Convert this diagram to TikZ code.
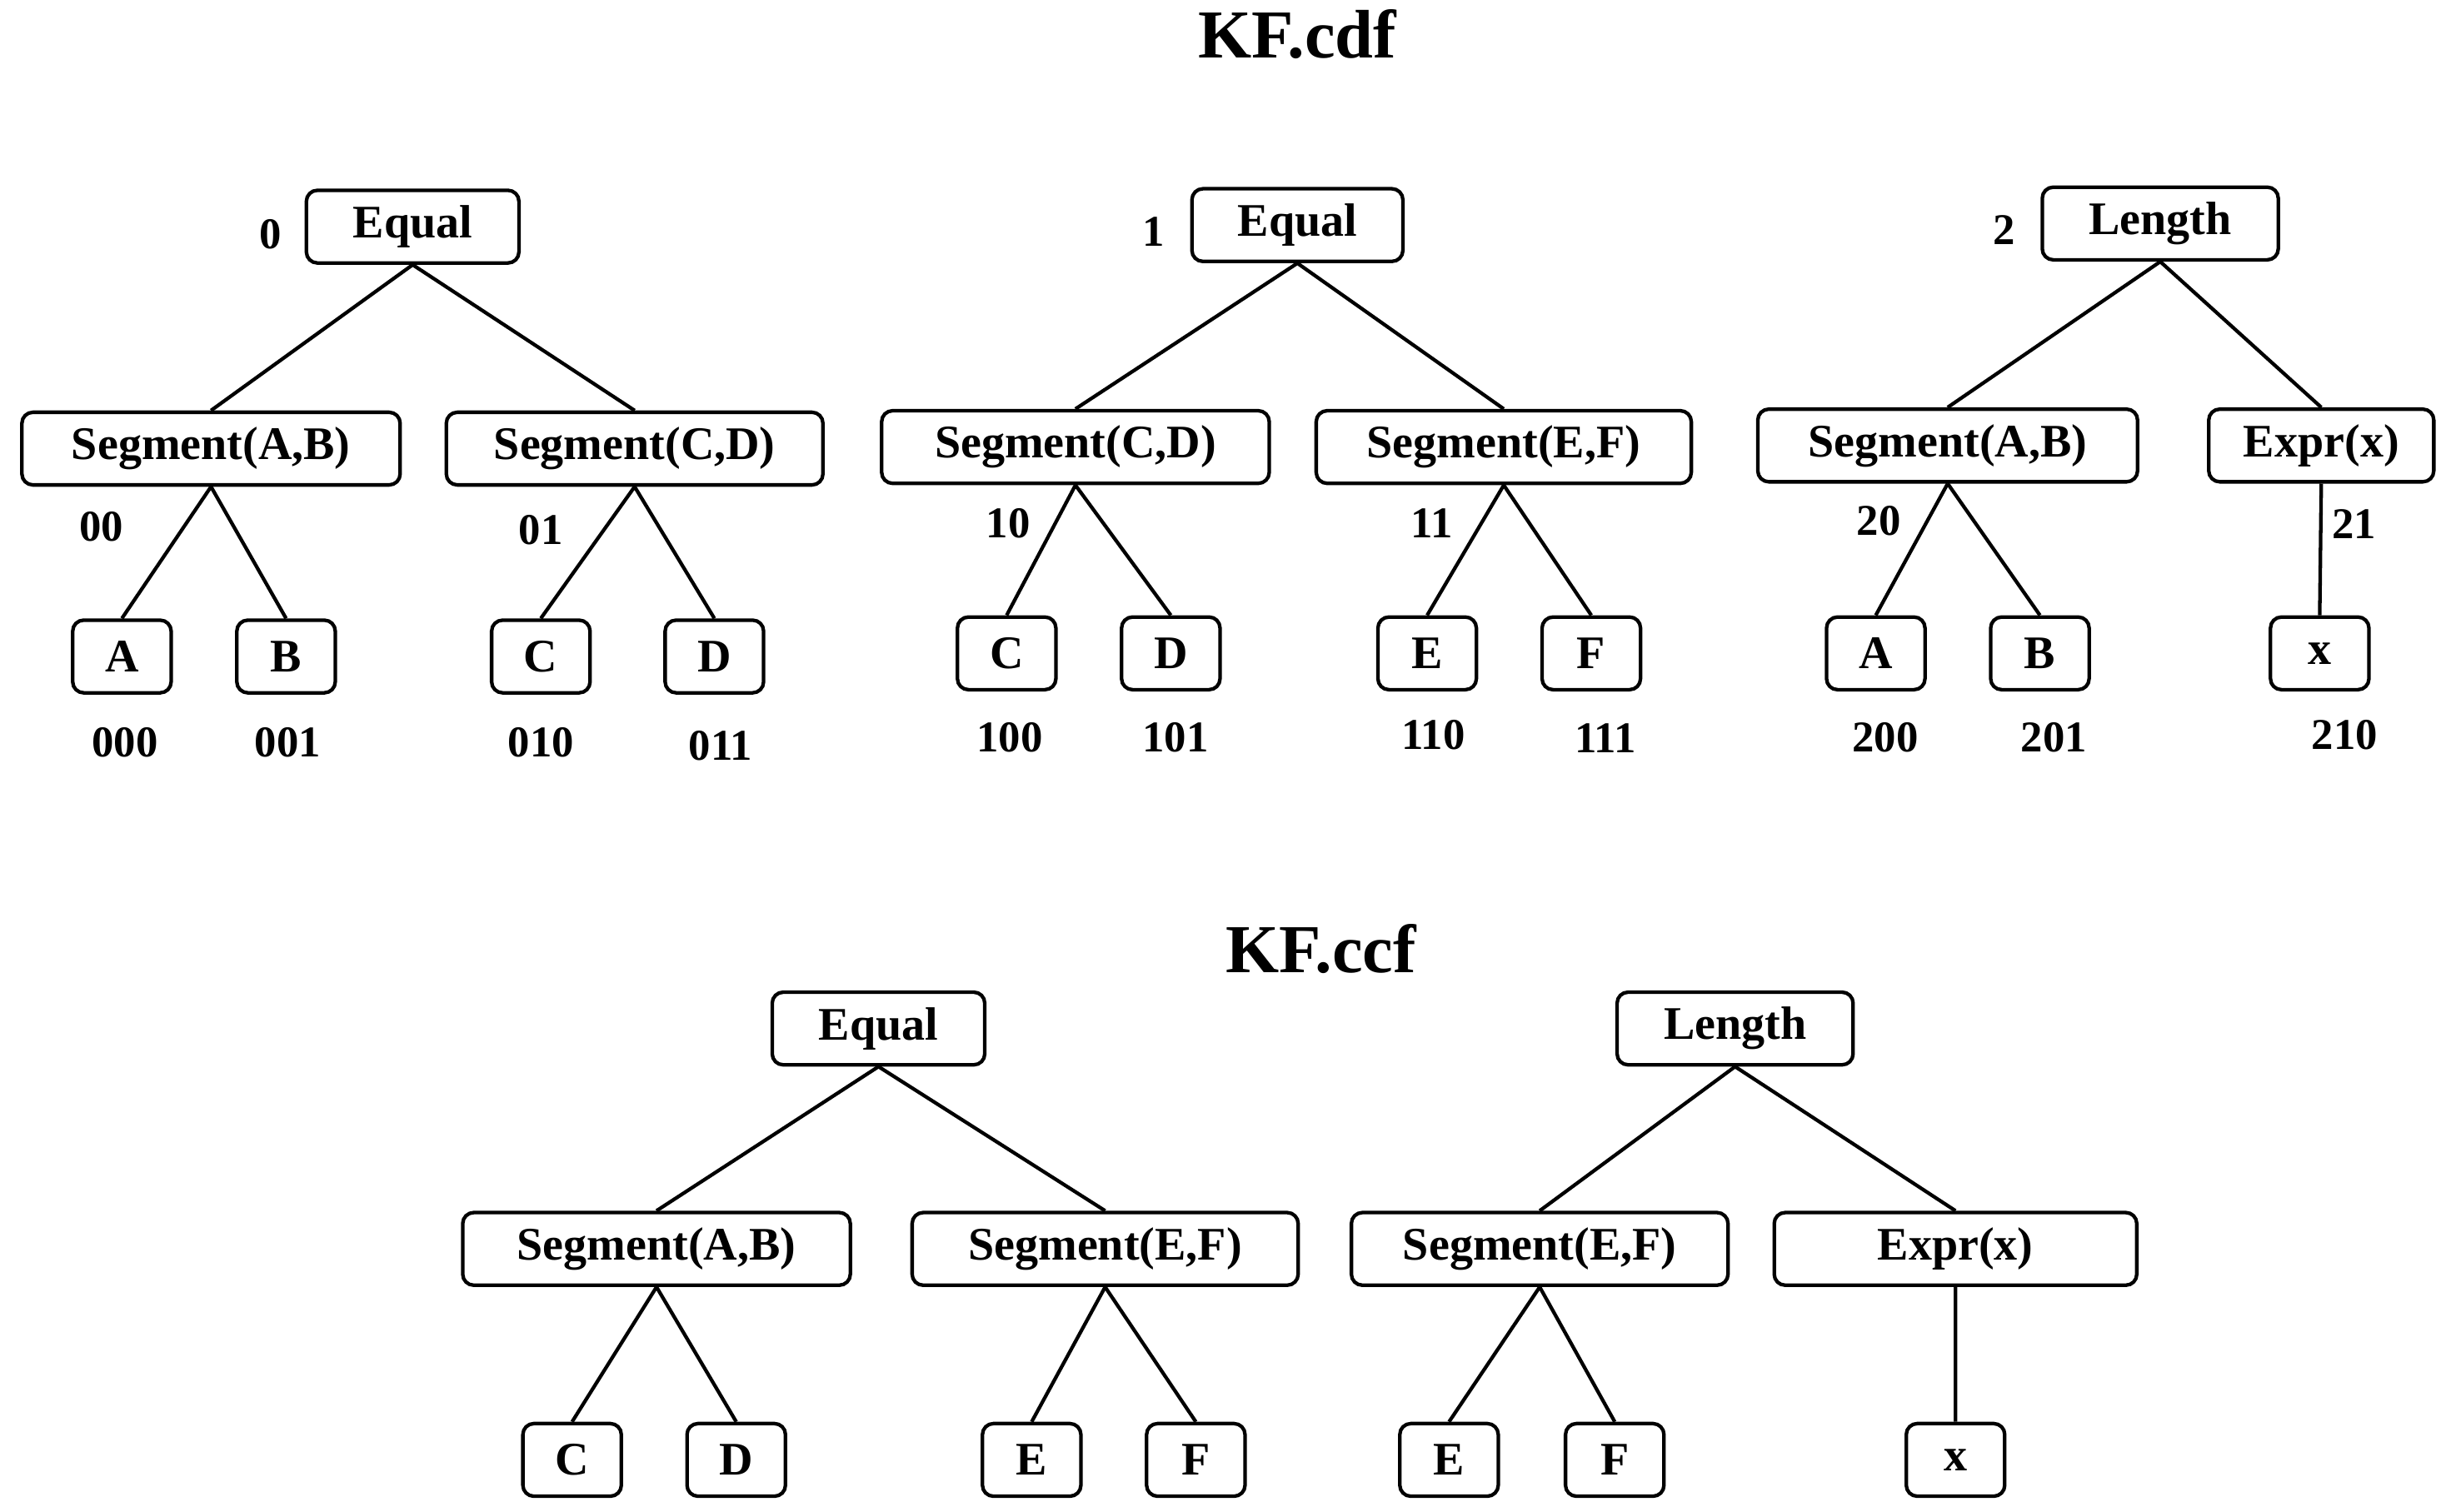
\documentclass[tikz,border=0pt]{standalone}
\usepackage{fontspec}
\setmainfont{Liberation Serif}
\begin{document}
\begin{tikzpicture}[x=0.02cm,y=-0.02cm,
 bx/.style={draw,line width=1.3pt,rounded corners=4pt,minimum height=0.93cm,font=\fontsize{17}{20}\selectfont\bfseries,inner sep=2pt},
 lf/.style={bx,minimum width=1.26cm},
 lb/.style={font=\fontsize{16}{19}\selectfont\bfseries},
 ed/.style={line width=1.3pt}]
\useasboundingbox (0,0) rectangle (1568,967);
\node[font=\fontsize{25}{30}\selectfont\bfseries] (t1) at (830,22) {KF.cdf};
\node[font=\fontsize{25}{30}\selectfont\bfseries] (t2) at (845,607) {KF.ccf};
% tree 0
\node[bx,minimum width=2.72cm] (e0) at (264,145) {Equal};
\node[bx,minimum width=4.84cm] (s00) at (135,287) {Segment(A,B)};
\node[bx,minimum width=4.82cm] (s01) at (406,287) {Segment(C,D)};
\node[lf] (a0) at (78,420) {A};
\node[lf] (b0) at (183,420) {B};
\node[lf] (c0) at (346,420) {C};
\node[lf] (d0) at (457,420) {D};
\draw[ed] (e0.south) -- (s00.north) (e0.south) -- (s01.north)
 (s00.south) -- (a0.north) (s00.south) -- (b0.north)
 (s01.south) -- (c0.north) (s01.south) -- (d0.north);
\node[lb] (l0) at (173,150) {0};
\node[lb] (l00) at (65,337) {00};
\node[lb] (l01) at (346,339) {01};
\node[lb] (l000) at (80,475) {000};
\node[lb] (l001) at (184,475) {001};
\node[lb] (l010) at (346,475) {010};
\node[lb] (l011) at (461,477) {011};
% tree 1
\node[bx,minimum width=2.7cm] (e1) at (830,144) {Equal};
\node[bx,minimum width=4.96cm] (s10) at (688,286) {Segment(C,D)};
\node[bx,minimum width=4.8cm] (s11) at (962,286) {Segment(E,F)};
\node[lf] (c1) at (644,418) {C};
\node[lf] (d1) at (749,418) {D};
\node[lf] (e1b) at (913,418) {E};
\node[lf] (f1) at (1018,418) {F};
\draw[ed] (e1.south) -- (s10.north) (e1.south) -- (s11.north)
 (s10.south) -- (c1.north) (s10.south) -- (d1.north)
 (s11.south) -- (e1b.north) (s11.south) -- (f1.north);
\node[lb] (l1) at (738,148) {1};
\node[lb] (l10) at (645,335) {10};
\node[lb] (l11) at (916,335) {11};
\node[lb] (l100) at (646,472) {100};
\node[lb] (l101) at (752,472) {101};
\node[lb] (l110) at (917,470) {110};
\node[lb] (l111) at (1027,472) {111};
% tree 2
\node[bx,minimum width=3.02cm] (g2) at (1382,143) {Length};
\node[bx,minimum width=4.86cm] (s20) at (1246,285) {Segment(A,B)};
\node[bx,minimum width=2.88cm] (x21) at (1485,285) {Expr(x)};
\node[lf] (a2) at (1200,418) {A};
\node[lf] (b2) at (1305,418) {B};
\node[lf] (x2) at (1484,418) {x};
\draw[ed] (g2.south) -- (s20.north) (g2.south) -- (x21.north)
 (s20.south) -- (a2.north) (s20.south) -- (b2.north)
 (x21.south) -- (x2.north);
\node[lb] (l2) at (1282,147) {2};
\node[lb] (l20) at (1202,333) {20};
\node[lb] (l21) at (1506,335) {21};
\node[lb] (l200) at (1206,472) {200};
\node[lb] (l201) at (1314,472) {201};
\node[lb] (l210) at (1500,470) {210};
% bottom tree 1
\node[bx,minimum width=2.72cm] (be) at (562,658) {Equal};
\node[bx,minimum width=4.96cm] (bs1) at (420,799) {Segment(A,B)};
\node[bx,minimum width=4.94cm] (bs2) at (707,799) {Segment(E,F)};
\node[lf] (bc) at (366,934) {C};
\node[lf] (bd) at (471,934) {D};
\node[lf] (bee) at (660,934) {E};
\node[lf] (bf) at (765,934) {F};
\draw[ed] (be.south) -- (bs1.north) (be.south) -- (bs2.north)
 (bs1.south) -- (bc.north) (bs1.south) -- (bd.north)
 (bs2.south) -- (bee.north) (bs2.south) -- (bf.north);
% bottom tree 2
\node[bx,minimum width=3.02cm] (bl) at (1110,658) {Length};
\node[bx,minimum width=4.82cm] (bs3) at (985,799) {Segment(E,F)};
\node[bx,minimum width=4.64cm] (bx4) at (1251,799) {Expr(x)};
\node[lf] (be2) at (927,934) {E};
\node[lf] (bf2) at (1033,934) {F};
\node[lf] (bxx) at (1251,934) {x};
\draw[ed] (bl.south) -- (bs3.north) (bl.south) -- (bx4.north)
 (bs3.south) -- (be2.north) (bs3.south) -- (bf2.north)
 (bx4.south) -- (bxx.north);
\end{tikzpicture}
\end{document}
